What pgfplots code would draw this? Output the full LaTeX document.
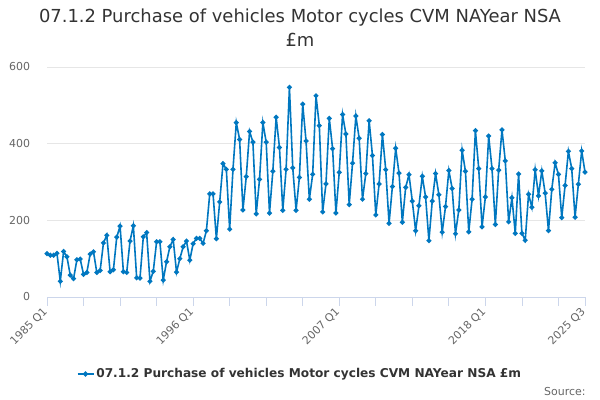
\documentclass[border=0pt]{standalone}
\usepackage{fontspec}
\setmainfont{DejaVu Sans}
\usepackage{pgfplots}
\pgfplotsset{compat=1.18}
\definecolor{linecol}{RGB}{0,119,192}
\definecolor{gridcol}{RGB}{230,230,230}
\definecolor{axiscol}{RGB}{204,214,235}
\definecolor{tickcol}{RGB}{102,102,102}
\definecolor{titlecol}{RGB}{51,51,51}
\begin{document}
\begin{tikzpicture}
\begin{axis}[
  at={(0,0)}, anchor=south west,
  scale only axis,
  width=538bp, height=230bp,
  xmin=0, xmax=162, ymin=0, ymax=600,
  clip=false,
  axis x line*=bottom,
  axis y line*=left,
  y axis line style={draw=none},
  x axis line style={draw=axiscol, line width=1bp},
  ymajorgrids,
  major grid style={draw=gridcol, line width=0.8bp},
  ytick={0,200,400,600},
  ytick style={draw=none},
  xtick={0,44,88,132,162},
  xticklabels={1985 Q1,1996 Q1,2007 Q1,2018 Q1,2025 Q3},
  minor xtick={11,22,33,55,66,77,99,110,121,143,154},
  xtick style={draw=axiscol, line width=0.8bp},
  minor x tick style={draw=axiscol, line width=0.8bp},
  tick align=outside,
  major tick length=8.5bp,
  minor tick length=8.5bp,
  /pgf/number format/assume math mode=true,
  yticklabel style={font=\fontsize{11}{13}\selectfont, text=tickcol, xshift=-5bp},
  xticklabel style={font=\fontsize{11}{13}\selectfont, text=tickcol, xshift=1bp, yshift=-2bp, anchor=east, rotate=45},
  legend style={at={(0.47,-0.335)}, anchor=center, draw=none, fill=none,
    font=\bfseries\fontsize{12.2}{14}\selectfont, text=titlecol},
  legend image code/.code={\draw[linecol, line width=1.6bp] (0bp,0bp) -- (16bp,0bp); \fill[linecol] (8bp,0bp) circle (1.8bp);},
]
\addplot[color=linecol, line width=1.6bp, mark=*, mark size=1.6bp, mark options={fill=linecol, draw=linecol}] table[x=i, y=v] {
i v
0 113
1 109
2 109
3 114
4 41
5 119
6 105
7 57
8 48
9 97
10 99
11 59
12 64
13 112
14 118
15 64
16 69
17 141
18 161
19 66
20 71
21 156
22 185
23 66
24 64
25 146
26 186
27 50
28 49
29 157
30 168
31 41
32 67
33 144
34 144
35 44
36 92
37 131
38 150
39 65
40 100
41 131
42 146
43 96
44 139
45 153
46 153
47 140
48 173
49 269
50 269
51 152
52 248
53 348
54 333
55 177
56 333
57 455
58 411
59 227
60 314
61 432
62 404
63 217
64 307
65 455
66 404
67 219
68 328
69 469
70 390
71 226
72 333
73 547
74 337
75 226
76 312
77 503
78 407
79 255
80 320
81 525
82 447
83 222
84 295
85 466
86 387
87 219
88 325
89 476
90 425
91 241
92 349
93 472
94 414
95 255
96 322
97 460
98 369
99 214
100 295
101 424
102 332
103 192
104 288
105 388
106 323
107 195
108 286
109 319
110 250
111 173
112 238
113 315
114 261
115 147
116 250
117 322
118 267
119 169
120 236
121 330
122 283
123 165
124 227
125 383
126 328
127 170
128 255
129 434
130 335
131 183
132 261
133 420
134 335
135 189
136 331
137 436
138 355
139 196
140 259
141 166
142 321
143 166
144 148
145 268
146 234
147 332
148 264
149 329
150 271
151 173
152 281
153 350
154 320
155 207
156 291
157 380
158 335
159 208
160 294
161 381
162 326
};
\addlegendentry{07.1.2 Purchase of vehicles Motor cycles CVM NAYear NSA £m}
\end{axis}
\node[font=\fontsize{18}{21}\selectfont, text=titlecol] at (253bp,279bp) {07.1.2 Purchase of vehicles Motor cycles CVM NAYear NSA};
\node[font=\fontsize{18}{21}\selectfont, text=titlecol] at (253bp,257bp) {£m};
\node[font=\fontsize{11}{13}\selectfont, text=tickcol, anchor=east] at (542bp,-95bp) {Source:};
\pgfresetboundingbox
\useasboundingbox (-47bp,-103bp) rectangle (553bp,297bp);
\end{tikzpicture}
\end{document}
